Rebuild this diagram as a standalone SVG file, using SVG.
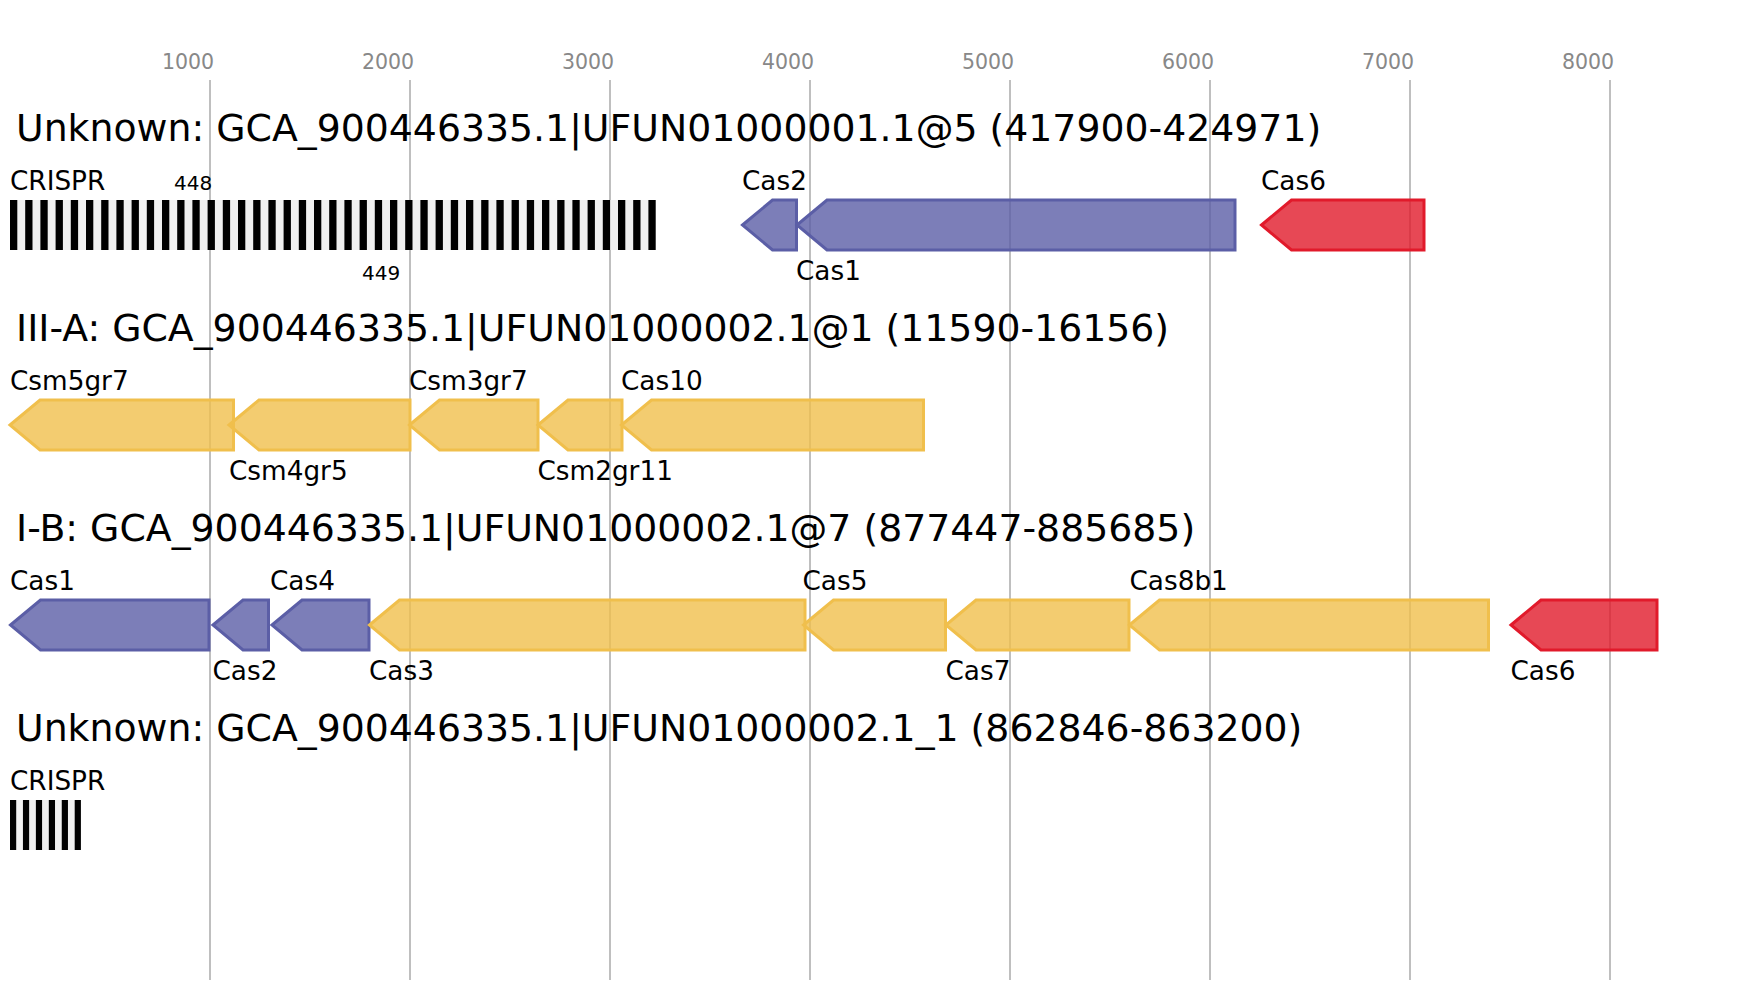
<svg xmlns="http://www.w3.org/2000/svg" width="1748" height="1000" viewBox="0 0 1748 1000">
<style>
text{font-family:"DejaVu Sans","Liberation Sans",sans-serif;fill:#000}
.ax{font-size:20.5px;fill:#888;text-anchor:middle}
.title{font-size:37.8px}
.lbl{font-size:26.3px}
.num{font-size:20px}
.grid{stroke:#bfbfbf;stroke-width:2}
.blue{fill:#5b5ea6;fill-opacity:.8;stroke:#5b5ea6;stroke-width:3}
.yel{fill:#f0bf4c;fill-opacity:.8;stroke:#f0bf4c;stroke-width:3}
.red{fill:#e11a2b;fill-opacity:.8;stroke:#e11a2b;stroke-width:3}
.crbg{fill:#f0f0f0}
</style>
<rect width="1748" height="1000" fill="#fff"/>
<g id="axis">
<line class="grid" x1="210" y1="80" x2="210" y2="980"/>
<line class="grid" x1="410" y1="80" x2="410" y2="980"/>
<line class="grid" x1="610" y1="80" x2="610" y2="980"/>
<line class="grid" x1="810" y1="80" x2="810" y2="980"/>
<line class="grid" x1="1010" y1="80" x2="1010" y2="980"/>
<line class="grid" x1="1210" y1="80" x2="1210" y2="980"/>
<line class="grid" x1="1410" y1="80" x2="1410" y2="980"/>
<line class="grid" x1="1610" y1="80" x2="1610" y2="980"/>
<text class="ax" x="188" y="69">1000</text>
<text class="ax" x="388" y="69">2000</text>
<text class="ax" x="588" y="69">3000</text>
<text class="ax" x="788" y="69">4000</text>
<text class="ax" x="988" y="69">5000</text>
<text class="ax" x="1188" y="69">6000</text>
<text class="ax" x="1388" y="69">7000</text>
<text class="ax" x="1588" y="69">8000</text>
</g>
<g id="connectors"/>
<g id="locus1">
<text class="title" x="16" y="141">Unknown: GCA_900446335.1|UFUN01000001.1@5 (417900-424971)</text>
<g id="l1-crispr">
<rect class="crbg" x="10" y="200" width="645.7" height="50"/>
<line x1="10" y1="225" x2="655.7" y2="225" stroke="#000" stroke-width="50" stroke-dasharray="7.3 7.9"/>
<text class="lbl" x="10" y="190">CRISPR</text>
<text class="num" x="174" y="190">448</text>
<text class="num" x="362" y="280">449</text>
</g>
<g id="l1-cas2"><polygon class="blue" points="742.5,225 772.5,200 796.5,200 796.5,250 772.5,250"/><text class="lbl" x="742" y="190">Cas2</text></g>
<g id="l1-cas1"><polygon class="blue" points="797,225 827,200 1235,200 1235,250 827,250"/><text class="lbl" x="796" y="280">Cas1</text></g>
<g id="l1-cas6"><polygon class="red" points="1261.5,225 1291.5,200 1424,200 1424,250 1291.5,250"/><text class="lbl" x="1261" y="190">Cas6</text></g>
</g>
<g id="locus2">
<text class="title" x="16" y="341">III-A: GCA_900446335.1|UFUN01000002.1@1 (11590-16156)</text>
<g id="l2-csm5"><polygon class="yel" points="10,425 40,400 233.5,400 233.5,450 40,450"/><text class="lbl" x="10" y="390">Csm5gr7</text></g>
<g id="l2-csm4"><polygon class="yel" points="229,425 259,400 410,400 410,450 259,450"/><text class="lbl" x="229" y="480">Csm4gr5</text></g>
<g id="l2-csm3"><polygon class="yel" points="409.5,425 439.5,400 538,400 538,450 439.5,450"/><text class="lbl" x="409" y="390">Csm3gr7</text></g>
<g id="l2-csm2"><polygon class="yel" points="538,425 568,400 622,400 622,450 568,450"/><text class="lbl" x="537.5" y="480">Csm2gr11</text></g>
<g id="l2-cas10"><polygon class="yel" points="621.5,425 651.5,400 923.5,400 923.5,450 651.5,450"/><text class="lbl" x="621" y="390">Cas10</text></g>
</g>
<g id="locus3">
<text class="title" x="16" y="541">I-B: GCA_900446335.1|UFUN01000002.1@7 (877447-885685)</text>
<g id="l3-cas1"><polygon class="blue" points="10.5,625 40.5,600 209,600 209,650 40.5,650"/><text class="lbl" x="10" y="590">Cas1</text></g>
<g id="l3-cas2"><polygon class="blue" points="213,625 243,600 268.5,600 268.5,650 243,650"/><text class="lbl" x="212.5" y="680">Cas2</text></g>
<g id="l3-cas4"><polygon class="blue" points="272,625 302,600 369,600 369,650 302,650"/><text class="lbl" x="270" y="590">Cas4</text></g>
<g id="l3-cas3"><polygon class="yel" points="369.5,625 399.5,600 805,600 805,650 399.5,650"/><text class="lbl" x="369" y="680">Cas3</text></g>
<g id="l3-cas5"><polygon class="yel" points="803.5,625 833.5,600 945.5,600 945.5,650 833.5,650"/><text class="lbl" x="802.5" y="590">Cas5</text></g>
<g id="l3-cas7"><polygon class="yel" points="946,625 976,600 1129,600 1129,650 976,650"/><text class="lbl" x="945.5" y="680">Cas7</text></g>
<g id="l3-cas8b1"><polygon class="yel" points="1129.5,625 1159.5,600 1488.5,600 1488.5,650 1159.5,650"/><text class="lbl" x="1129.5" y="590">Cas8b1</text></g>
<g id="l3-cas6"><polygon class="red" points="1511,625 1541,600 1657,600 1657,650 1541,650"/><text class="lbl" x="1510.5" y="680">Cas6</text></g>
</g>
<g id="locus4">
<text class="title" x="16" y="741">Unknown: GCA_900446335.1|UFUN01000002.1_1 (862846-863200)</text>
<g id="l4-crispr">
<rect class="crbg" x="10" y="800" width="71" height="50"/>
<line x1="10" y1="825" x2="81" y2="825" stroke="#000" stroke-width="50" stroke-dasharray="6.2 6.74"/>
<text class="lbl" x="10" y="790">CRISPR</text>
</g>
</g>
</svg>
